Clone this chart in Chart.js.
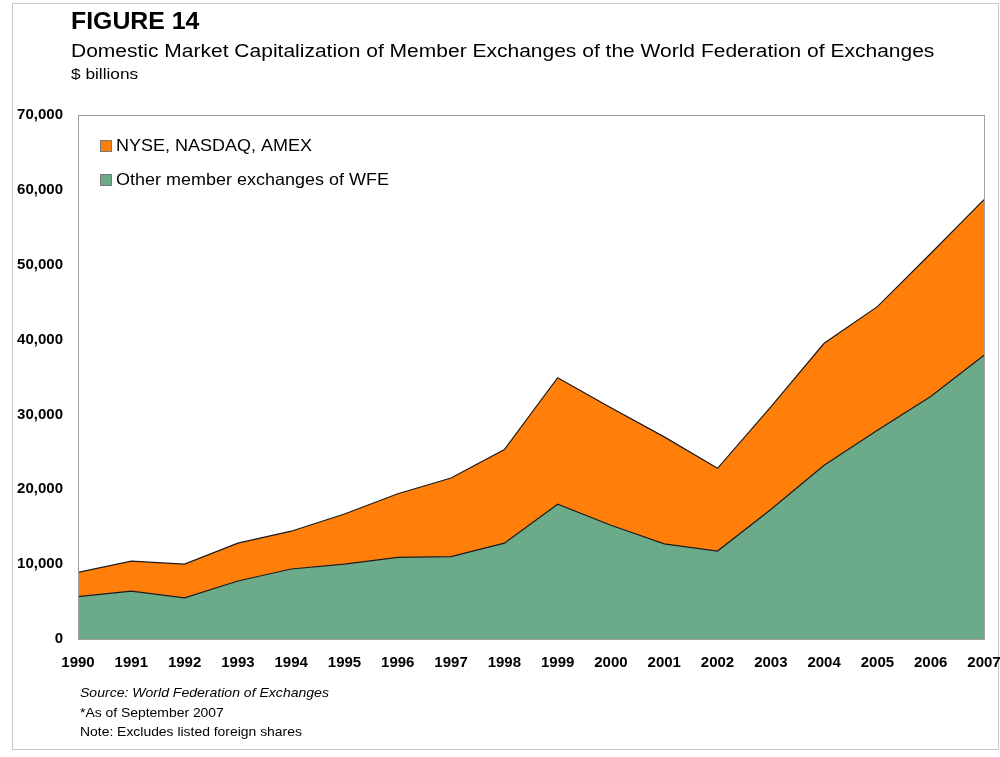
<!DOCTYPE html>
<html>
<head>
<meta charset="utf-8">
<script src="https://cdn.jsdelivr.net/npm/chart.js@4"></script>
<style>
  html, body { margin: 0; padding: 0; background: #fff; }
  #wrap { position: relative; width: 1000px; height: 757px; }
</style>
</head>
<body>
<div id="wrap"><canvas id="myChart" width="1000" height="757"></canvas></div>
<script>
// values, $ billions
const years = ['1990','1991','1992','1993','1994','1995','1996','1997','1998',
               '1999','2000','2001','2002','2003','2004','2005','2006','2007'];
const otherWfe = [5650, 6400, 5500, 7750, 9350, 10000, 10900, 11000, 12800,
                  18000, 15200, 12700, 11750, 17300, 23200, 27900, 32400, 37900];
const usExchanges = [3250, 4000, 4500, 5050, 5050, 6700, 8500, 10500, 12500,
                     16900, 15700, 14300, 11050, 13700, 16300, 16500, 19100, 20800];
const yTicks = [0, 10000, 20000, 30000, 40000, 50000, 60000, 70000];

const orange = '#FF7F0A';
const green = '#6BAB8A';
const FONT = '"Liberation Sans", Arial, sans-serif';

// the source text is a bit wider than plain Arial, so stretch it
function wideText(c, txt, x, y, sx) {
  c.save();
  c.translate(x, y);
  c.scale(sx, 1);
  c.fillText(txt, 0, 0);
  c.restore();
}

// titles, legend box, frame and footnotes drawn straight on the canvas
const decor = {
  id: 'decor',
  beforeDraw(chart) {
    const c = chart.ctx;
    c.save();
    c.fillStyle = '#fff';
    c.fillRect(0, 0, chart.width, chart.height);
    c.strokeStyle = '#c8c8c8';
    c.lineWidth = 1;
    c.strokeRect(12.5, 3.5, 986, 746);
    c.restore();
  },
  afterDraw(chart) {
    const c = chart.ctx;
    const a = chart.chartArea;
    c.save();
    // plot frame
    c.strokeStyle = '#a0a0a0';
    c.lineWidth = 1;
    c.strokeRect(Math.round(a.left) + 0.5, Math.round(a.top) + 0.5,
                 Math.round(a.right - a.left), Math.round(a.bottom - a.top));
    c.fillStyle = '#000';
    c.textBaseline = 'alphabetic';
    c.font = 'bold 23px ' + FONT;
    wideText(c, 'FIGURE 14', 71, 29, 1.08);
    c.font = '17.5px ' + FONT;
    wideText(c, 'Domestic Market Capitalization of Member Exchanges of the World Federation of Exchanges', 71, 57, 1.2);
    c.font = '15px ' + FONT;
    wideText(c, '$ billions', 71, 79, 1.15);

    // legend, orange first
    const items = [
      { label: chart.data.datasets[1].label, color: chart.data.datasets[1].backgroundColor, y: 146 },
      { label: chart.data.datasets[0].label, color: chart.data.datasets[0].backgroundColor, y: 180 }
    ];
    c.font = '16.5px ' + FONT;
    c.textBaseline = 'middle';
    items.forEach(it => {
      c.fillStyle = it.color;
      c.fillRect(100, it.y - 6, 12, 12);
      c.strokeStyle = '#777';
      c.strokeRect(100.5, it.y - 5.5, 11, 11);
      c.fillStyle = '#000';
      wideText(c, it.label, 116, it.y, 1.09);
    });

    // footnotes
    c.textBaseline = 'alphabetic';
    c.font = 'italic 13px ' + FONT;
    wideText(c, 'Source: World Federation of Exchanges', 80, 697, 1.08);
    c.font = '13px ' + FONT;
    wideText(c, '*As of September 2007', 80, 717, 1.07);
    wideText(c, 'Note: Excludes listed foreign shares', 80, 736, 1.07);
    c.restore();
  }
};

new Chart(document.getElementById('myChart'), {
  type: 'line',
  data: {
    labels: years,
    datasets: [{
      label: 'Other member exchanges of WFE',
      data: otherWfe,
      backgroundColor: green,
      borderColor: '#1a1a1a',
      borderWidth: 1.2,
      fill: 'origin',
      pointRadius: 0,
      tension: 0
    }, {
      label: 'NYSE, NASDAQ, AMEX',
      data: usExchanges,
      backgroundColor: orange,
      borderColor: '#1a1a1a',
      borderWidth: 1.2,
      fill: '-1',
      pointRadius: 0,
      tension: 0
    }]
  },
  options: {
    responsive: false,
    animation: false,
    layout: { padding: { left: 0, right: 16, top: 115, bottom: 78 } },
    plugins: {
      legend: { display: false },
      tooltip: { enabled: false }
    },
    scales: {
      x: {
        offset: false,
        grid: { display: false, drawTicks: false },
        border: { display: false },
        ticks: {
          color: '#000',
          padding: 15,
          maxRotation: 0,
          autoSkip: false,
          font: { family: FONT, size: 15, weight: 'bold' }
        },
        afterFit(scale) {
          scale.height = 40;
          scale.paddingLeft = 0;
          scale.paddingRight = 0;
        }
      },
      y: {
        stacked: true,
        min: 0,
        max: 70000,
        grid: { display: false, drawTicks: false },
        border: { display: false },
        afterBuildTicks(scale) { scale.ticks = yTicks.map(v => ({ value: v })); },
        ticks: {
          color: '#000',
          padding: 15,
          callback: v => v.toLocaleString('en-US'),
          font: { family: FONT, size: 15, weight: 'bold' }
        },
        afterFit(scale) { scale.width = 78; }
      }
    }
  },
  plugins: [decor]
});
</script>
</body>
</html>
